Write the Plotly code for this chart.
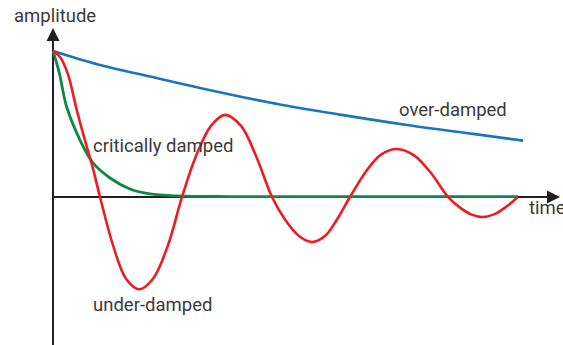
import plotly.graph_objects as go

# ---- data (time units, amplitude units) ----
t_over = [0, 0.94, 1.94, 2.94, 4.54, 5.74, 7.08, 8.40, 9.40]
a_over = [1.0, 0.904, 0.825, 0.747, 0.633, 0.564, 0.493, 0.432, 0.386]

t_crit = [0, 0.126, 0.274, 0.54, 0.80, 1.14, 1.54, 1.94, 2.48, 3.54, 5.0, 7.0, 9.30]
a_crit = [1.0, 0.849, 0.616, 0.390, 0.233, 0.130, 0.055, 0.021, 0.007, 0.003, 0.003, 0.003, 0.003]

t_under = [0, 0.14, 0.30, 0.46, 0.62, 0.78, 0.94,
           1.20, 1.46, 1.72, 2.00, 2.30, 2.58,
           2.86, 3.16, 3.44, 3.76, 4.06, 4.38,
           4.64, 4.92, 5.18, 5.44, 5.68, 5.94,
           6.26, 6.56, 6.88, 7.22, 7.56, 7.90,
           8.12, 8.36, 8.58, 8.82, 9.06, 9.30]
a_under = [1.0, 0.959, 0.84, 0.616, 0.411, 0.22, 0.0,
           -0.33, -0.56, -0.632, -0.56, -0.33, 0.0,
           0.281, 0.487, 0.562, 0.487, 0.281, 0.0,
           -0.154, -0.267, -0.308, -0.267, -0.154, 0.0,
           0.175, 0.290, 0.329, 0.285, 0.164, 0.0,
           -0.068, -0.119, -0.137, -0.119, -0.068, 0.0]

labels = ["amplitude", "time", "critically damped", "over-damped", "under-damped"]

BLUE = "#1b75bc"
RED = "#ed1c24"
GREEN = "#0b8a43"
AXIS = "#231f20"
TEXT = "#3a3a3a"

X_RANGE = [-1.06, 10.2]
Y_RANGE = [-1.0137, 1.349]

fig = go.Figure()
fig.add_trace(go.Scatter(x=t_over, y=a_over, mode="lines",
                         line=dict(color=BLUE, width=2.6, shape="spline", smoothing=1)))
fig.add_trace(go.Scatter(x=t_crit, y=a_crit, mode="lines",
                         line=dict(color=GREEN, width=2.8, shape="spline", smoothing=1)))
fig.add_trace(go.Scatter(x=t_under, y=a_under, mode="lines",
                         line=dict(color=RED, width=2.6, shape="spline", smoothing=1)))

# axes drawn beneath the curves
fig.add_shape(type="line", x0=0, x1=0, y0=Y_RANGE[0], y1=1.10, layer="below",
              line=dict(color=AXIS, width=2))
fig.add_shape(type="line", x0=0, x1=10.0, y0=0, y1=0, layer="below",
              line=dict(color=AXIS, width=2))

# arrow heads
fig.add_annotation(x=0, y=1.158, ax=0, ay=1.06, xref="x", yref="y", axref="x", ayref="y",
                   showarrow=True, arrowhead=2, arrowsize=1.3, arrowwidth=2,
                   arrowcolor=AXIS, text="", standoff=0)
fig.add_annotation(x=10.14, y=0, ax=9.9, ay=0, xref="x", yref="y", axref="x", ayref="y",
                   showarrow=True, arrowhead=2, arrowsize=1.3, arrowwidth=2,
                   arrowcolor=AXIS, text="", standoff=0)

font = dict(family="Roboto", size=18.5, color=TEXT)
positions = [(-0.82, 1.24), (9.48, -0.075), (0.76, 0.352), (6.88, 0.597), (0.76, -0.738)]
for lab, (x, y) in zip(labels, positions):
    fig.add_annotation(x=x, y=y, xref="x", yref="y", text=lab, showarrow=False,
                       xanchor="left", yanchor="middle", font=font)

fig.update_layout(
    width=563, height=345,
    margin=dict(l=0, r=0, t=0, b=0),
    paper_bgcolor="white", plot_bgcolor="white",
    showlegend=False,
    hovermode=False,
    xaxis=dict(range=X_RANGE, visible=False, fixedrange=True),
    yaxis=dict(range=Y_RANGE, visible=False, fixedrange=True),
)

fig.write_html(
    "out.html",
    config={"displayModeBar": False, "staticPlot": True},
    post_script="document.body.style.margin='0';document.body.style.overflow='hidden';",
)
